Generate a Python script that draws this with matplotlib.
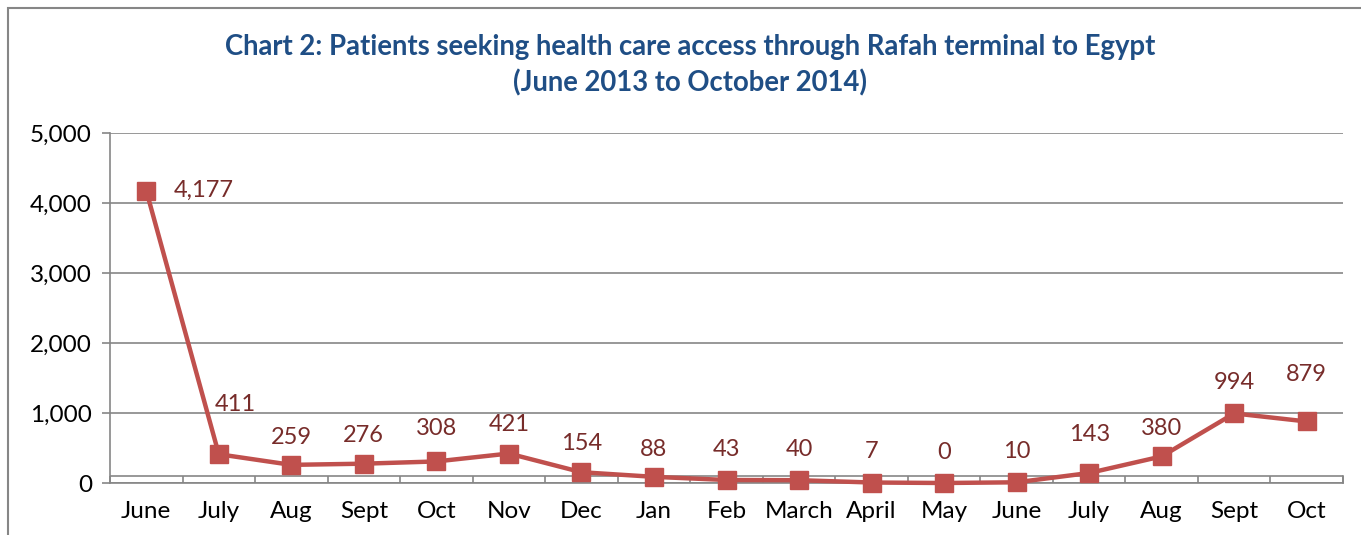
import matplotlib
matplotlib.use('Agg')
import matplotlib.pyplot as plt
from matplotlib.patches import Rectangle
from matplotlib.ticker import FuncFormatter, FixedLocator

months = ['June', 'July', 'Aug', 'Sept', 'Oct', 'Nov', 'Dec', 'Jan', 'Feb',
          'March', 'April', 'May', 'June', 'July', 'Aug', 'Sept', 'Oct']
patients = [4177, 411, 259, 276, 308, 421, 154, 88, 43, 40, 7, 0, 10, 143, 380, 994, 879]

# label offsets in points (dx, dy) -- mostly "above", a few nudged like the original
label_offsets = [(30, 0), (12, 36), (0, 20), (0, 20), (0, 24), (0, 21), (0, 21), (0, 20),
                 (0, 22), (0, 22), (0, 22), (0, 22), (0, 22), (0, 28), (0, 20), (0, 22), (0, 34)]

plt.rcParams['font.family'] = ['Lato', 'DejaVu Sans']

red = '#C0504D'
lab = '#772C2A'
grey = '#868686'

fig = plt.figure(figsize=(13.61, 5.35), dpi=100)
ax = fig.add_axes([110 / 1361, 52 / 535, 1233 / 1361, 350 / 535])

x = list(range(len(months)))
ax.plot(x, patients, color=red, lw=3.2, marker='s', ms=13.5, zorder=3, clip_on=False)

for i, v in enumerate(patients):
    dx, dy = label_offsets[i]
    ha = 'left' if i == 0 else 'center'
    ax.annotate(f'{v:,}', (i, v), xytext=(dx - (10 if i == 0 else 0), dy), textcoords='offset points',
                ha=ha, va='center', fontsize=17, color=lab)

ax.set_xlim(-0.5, len(months) - 0.5)
ax.set_ylim(0, 5000)
ax.set_yticks(range(0, 5001, 1000))
ax.yaxis.set_major_formatter(FuncFormatter(lambda v, p: f'{int(v):,}'))
ax.set_xticks(x)
ax.set_xticklabels(months)
ax.xaxis.set_minor_locator(FixedLocator([i + 0.5 for i in range(-1, len(months))]))
ax.tick_params(axis='x', which='major', length=0, labelsize=17.5, pad=13, colors='black')
ax.tick_params(axis='x', which='minor', length=5, direction='in', color=grey, width=1.2)
ax.tick_params(axis='y', length=6, color=grey, width=1.2, labelsize=17.5, pad=7)

ax.grid(axis='y', color=grey, lw=1.2)
ax.axhline(100, color=grey, lw=1.2, zorder=1)
for s in ['top', 'right']:
    ax.spines[s].set_visible(False)
for s in ['left', 'bottom']:
    ax.spines[s].set_color(grey)
    ax.spines[s].set_linewidth(1.2)
ax.plot([1, 1], [0, 100], color=grey, lw=1.2, transform=ax.get_yaxis_transform(), clip_on=False)

fig.text(690 / 1361, 1 - 47 / 535,
         'Chart 2: Patients seeking health care access through Rafah terminal to Egypt',
         ha='center', va='center', fontsize=19.8, fontweight='bold', color='#1F4E85')
fig.text(690 / 1361, 1 - 83 / 535, '(June 2013 to October 2014)',
         ha='center', va='center', fontsize=19.8, fontweight='bold', color='#1F4E85')

fig.patches.append(Rectangle((8 / 1361, -0.1), 1.2, 1 - 8 / 535 + 0.1, transform=fig.transFigure,
                             fill=False, ec=grey, lw=1.5))

fig.savefig('out.png', dpi=100)
